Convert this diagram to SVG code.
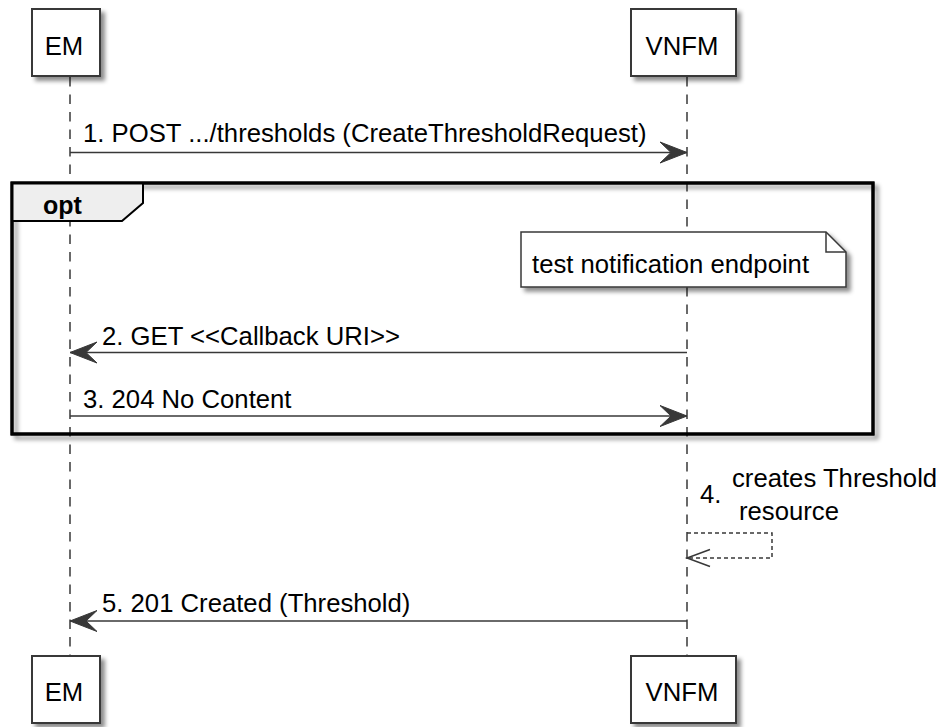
<svg xmlns="http://www.w3.org/2000/svg" width="939" height="727" viewBox="0 0 939 727">
<style>
text{font-family:"Liberation Sans",Arial,sans-serif;font-size:25.7px;fill:#000}
.box{fill:#fff;stroke:#383838;stroke-width:2}
.life{stroke:#383838;stroke-width:1.5;stroke-dasharray:9.5,8;fill:none}
.msg{stroke:#383838;stroke-width:1.5;fill:none}
.ret{stroke:#383838;stroke-width:1.5;fill:none;stroke-dasharray:4,3}
.pn{text-anchor:middle}
</style>
<defs>
<filter id="sh" x="-20%" y="-20%" width="150%" height="150%">
<feGaussianBlur in="SourceAlpha" stdDeviation="2.2"/>
<feOffset dx="4" dy="4" result="b"/>
<feFlood flood-color="#000" flood-opacity="0.45"/>
<feComposite in2="b" operator="in"/>
<feMerge><feMergeNode/><feMergeNode in="SourceGraphic"/></feMerge>
</filter>
<marker id="filled" markerUnits="userSpaceOnUse" markerWidth="30" markerHeight="24" refX="27" refY="10.5" orient="auto" overflow="visible">
<path d="M0,0 L27,10.5 L0,21 L11,10.5 Z" fill="#383838" stroke="#383838" stroke-width="1"/>
</marker>
<marker id="open" markerUnits="userSpaceOnUse" markerWidth="26" markerHeight="20" refX="23" refY="8.5" orient="auto" overflow="visible">
<path d="M0,0 L23,8.5 L0,17" fill="none" stroke="#383838" stroke-width="1.5"/>
</marker>
</defs>
<rect width="939" height="727" fill="#fff"/>
<g id="lifelines">
<line class="life" x1="70" y1="77" x2="70" y2="656"/>
<line class="life" x1="687" y1="77" x2="687" y2="656"/>
</g>
<g id="opt-frame">
<rect x="12" y="183" width="861" height="251" fill="none" stroke="#000" stroke-width="3" filter="url(#sh)"/>
<polygon points="12,183 143,183 143,203 122,221 12,221" fill="#eeeeee" stroke="#000" stroke-width="2"/>
<rect x="12" y="183" width="861" height="251" fill="none" stroke="#000" stroke-width="3"/>
<text x="43" y="214" style="font-weight:bold;font-size:25px">opt</text>
</g>
<g id="em-top">
<rect class="box" x="32" y="9" width="68" height="67" filter="url(#sh)"/>
<text class="pn" x="64" y="55">EM</text>
</g>
<g id="vnfm-top">
<rect class="box" x="631" y="9" width="105" height="67" filter="url(#sh)"/>
<text class="pn" x="682" y="55">VNFM</text>
</g>
<g id="em-bottom">
<rect class="box" x="32" y="656" width="68" height="67" filter="url(#sh)"/>
<text class="pn" x="64" y="701">EM</text>
</g>
<g id="vnfm-bottom">
<rect class="box" x="631" y="656" width="105" height="67" filter="url(#sh)"/>
<text class="pn" x="682" y="701">VNFM</text>
</g>
<g id="note">
<path d="M521,232 L826,232 L846,252 L846,287 L521,287 Z" fill="#fff" stroke="#383838" stroke-width="1.5" filter="url(#sh)"/>
<path d="M826,232 L826,252 L846,252" fill="none" stroke="#383838" stroke-width="1.5"/>
<text x="532" y="273">test notification endpoint</text>
</g>
<g id="connectors">
<line class="msg" x1="70" y1="152.5" x2="687" y2="152.5" marker-end="url(#filled)"/>
<text x="83" y="142">1. POST .../thresholds (CreateThresholdRequest)</text>
<line class="msg" x1="687" y1="352.5" x2="70" y2="352.5" marker-end="url(#filled)"/>
<text x="102" y="345">2. GET &lt;&lt;Callback URI&gt;&gt;</text>
<line class="msg" x1="70" y1="416" x2="687" y2="416" marker-end="url(#filled)"/>
<text x="83" y="408">3. 204 No Content</text>
<polyline class="ret" points="687,533 772,533 772,558 687,558" marker-end="url(#open)"/>
<text x="700" y="503">4.</text>
<text x="732" y="487">creates Threshold</text>
<text x="739" y="520">resource</text>
<line class="msg" x1="687" y1="621" x2="70" y2="621" marker-end="url(#filled)"/>
<text x="102" y="612">5. 201 Created (Threshold)</text>
</g>
</svg>
